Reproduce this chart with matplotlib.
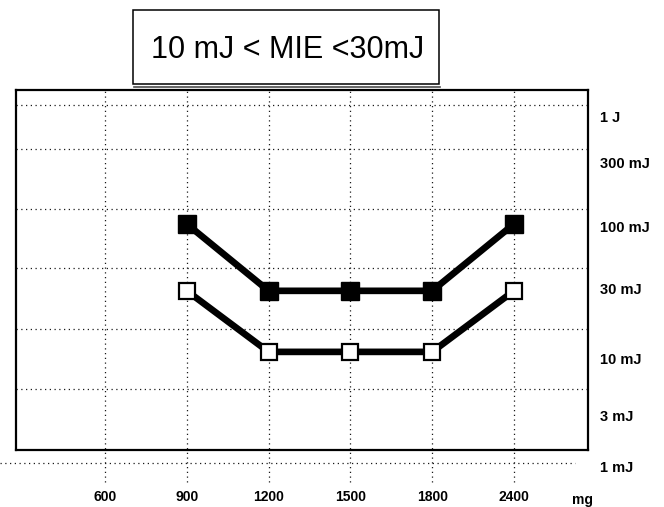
import numpy as np
import matplotlib.pyplot as plt
from matplotlib.patches import Rectangle

plt.rcParams['font.family'] = ['Liberation Sans', 'DejaVu Sans']

# data
dosis = ['600', '900', '1200', '1500', '1800', '2400']
dosis_lleno = ['900', '1200', '1500', '1800', '2400']
energia_lleno = [100, 30, 30, 30, 100]      # mJ, cuadrados negros
dosis_vacio = ['900', '1200', '1500', '1800', '2400']
energia_vacio = [30, 10, 10, 10, 30]        # mJ, cuadrados blancos
etiquetas_y = ['1 J', '300 mJ', '100 mJ', '30 mJ', '10 mJ', '3 mJ', '1 mJ']
titulo = '10 mJ < MIE <30mJ'

# layout (fracciones de ejes)
pos_etiquetas_y = [0.922, 0.794, 0.617, 0.444, 0.25, 0.092, -0.05]
pos_grilla_h = [0.958, 0.836, 0.669, 0.506, 0.336, 0.169]

xpos = {d: i * 1.0 for i, d in enumerate(dosis)}

fig = plt.figure(figsize=(6.64, 5.07), dpi=100)
ax = fig.add_axes([16/664, 57/507, 572/664, 360/507])
ax.set_yscale('log')
ax.set_ylim(1.71, 1114)
ax.set_xlim(-1.088, 5.905)

grilla = dict(color='0.1', lw=0.9, linestyle=(0, (1, 2.8)), zorder=1)
for d in dosis:
    ax.plot([xpos[d], xpos[d]], [-0.089, 1], transform=ax.get_xaxis_transform(),
            clip_on=False, **grilla)
for f in pos_grilla_h:
    ax.plot([0, 1], [f, f], transform=ax.transAxes, **grilla)
ax.plot([-0.028, 0.977], [-0.036, -0.036], transform=ax.transAxes, clip_on=False, **grilla)

ax.plot([xpos[d] for d in dosis_lleno], energia_lleno, color='black', lw=4.8,
        marker='s', markersize=12.5, markerfacecolor='black', markeredgecolor='black',
        zorder=3)
ax.plot([xpos[d] for d in dosis_vacio], energia_vacio, color='black', lw=4.8,
        marker='s', markersize=11, markerfacecolor='white', markeredgecolor='black',
        markeredgewidth=1.6, zorder=3)

ax.set_xticks([xpos[d] for d in dosis], dosis, fontsize=10, fontweight='bold')
ax.tick_params(axis='x', length=0, pad=29)
ax.set_yticks([])
ax.yaxis.set_minor_locator(plt.NullLocator())
ax.text(0.99, -0.138, 'mg', transform=ax.transAxes, fontsize=10, fontweight='bold',
        ha='center', va='center')

for etiqueta, f in zip(etiquetas_y, pos_etiquetas_y):
    ax.text(1.021, f, etiqueta, transform=ax.transAxes, fontsize=10.5,
            fontweight='bold', ha='left', va='center')

for s in ax.spines.values():
    s.set_linewidth(1.6)

# caja del titulo
fig.patches.append(Rectangle((133/664, 1 - 84/507), 306/664, 74/507,
                             transform=fig.transFigure, fill=False, lw=1.1,
                             edgecolor='black'))
fig.lines.append(plt.Line2D([134/664, 440/664], [1 - 87/507, 1 - 87/507],
                            transform=fig.transFigure, color='0.3', lw=1.2))
fig.text(288/664, 1 - 50/507, titulo, fontsize=22, ha='center', va='center')

fig.savefig('out.png', dpi=100)
